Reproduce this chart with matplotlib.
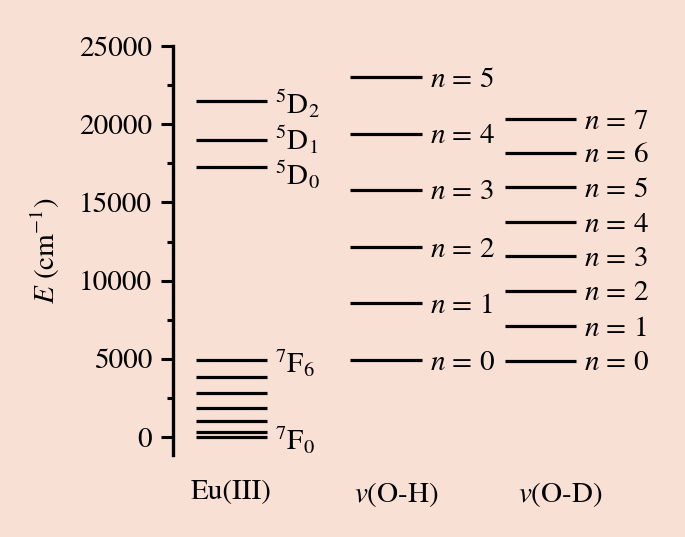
import numpy as np
import matplotlib.pyplot as plt
from matplotlib.transforms import offset_copy

plt.rcParams['font.family'] = ['STIXGeneral', 'DejaVu Serif']
plt.rcParams['mathtext.fontset'] = 'stix'

# energy levels (cm^-1)
eu_levels = [0, 350, 1000, 1850, 2800, 3850, 4900, 17250, 19000, 21500]
eu_names = {0: r'$^7$F$_0$', 6: r'$^7$F$_6$', 7: r'$^5$D$_0$',
            8: r'$^5$D$_1$', 9: r'$^5$D$_2$'}
oh_levels = [4900, 8550, 12150, 15800, 19400, 23000]
od_levels = [4880, 7100, 9350, 11570, 13750, 15970, 18180, 20330]
columns = ['Eu(III)', r'$v$(O-H)', r'$v$(O-D)']
col_shift = [0.0, 0.065, 0.13]   # category labels sit a bit right of the levels
nudge = {7: -3.5, 8: 2.0}        # vertical label nudges (pt) for crowded 5D levels

bg = '#F9E0D5'
fig = plt.figure(figsize=(6.85, 5.37), dpi=100, facecolor=bg)
ax = fig.add_axes([173/685, 1 - 455/537, 1 - 173/685, (455 - 46)/537])
ax.set_facecolor(bg)

hw = 0.232      # half width of a level line
gap = 0.05      # line end -> label
fs = 21

def draw_column(i, levels, names, shifts={}):
    ax.hlines(levels, i - hw, i + hw, color='black', lw=2.3)
    for k, txt in names.items():
        tr = offset_copy(ax.transData, fig=fig, y=shifts.get(k, 0), units='points')
        ax.text(i + hw + gap, levels[k], txt, fontsize=fs, transform=tr,
                ha='left', va='center_baseline')

draw_column(0, eu_levels, eu_names, nudge)
draw_column(1, oh_levels, {k: r'$n$ = %d' % k for k in range(len(oh_levels))})
draw_column(2, od_levels, {k: r'$n$ = %d' % k for k in range(len(od_levels))})

ax.set_xlim(-0.379, 2.935)
ax.set_ylim(-1150, 25000)
ax.set_xticks(np.arange(len(columns)) + np.array(col_shift))
ax.set_xticklabels(columns, fontsize=fs)
ax.tick_params(axis='x', length=0, pad=18)
ax.set_yticks(np.arange(0, 25001, 5000))
ax.set_yticks(np.arange(2500, 25000, 5000), minor=True)
ax.tick_params(axis='y', which='major', length=9, width=2.2, labelsize=fs, pad=6)
ax.tick_params(axis='y', which='minor', length=4.5, width=2.2)
for s in ['top', 'right', 'bottom']:
    ax.spines[s].set_visible(False)
ax.spines['left'].set_linewidth(2.4)
ax.set_ylabel(r'$E$ (cm$^{-1}$)', fontsize=fs, labelpad=12)

fig.savefig('out.png', dpi=100, facecolor=bg)
